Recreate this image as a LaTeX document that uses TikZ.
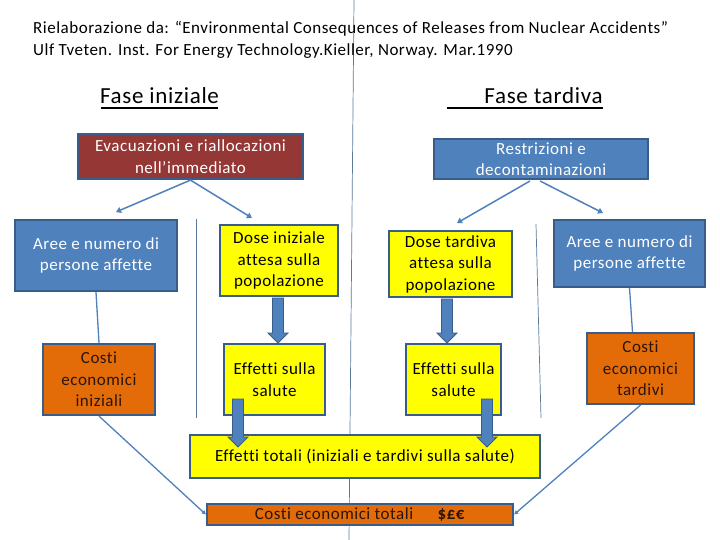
\documentclass[tikz,border=0pt]{standalone}
\usepackage{fontspec}
\setmainfont{Carlito}[LetterSpace=3,Ligatures=NoCommon]
\usetikzlibrary{arrows.meta,calc}
\definecolor{bdr}{HTML}{385D8A}
\definecolor{blu}{HTML}{4F81BD}
\definecolor{redbox}{HTML}{953735}
\definecolor{yel}{HTML}{FFFF00}
\definecolor{org}{HTML}{E36C09}
\definecolor{ln}{HTML}{5A7A9A}
\definecolor{orgtxt}{HTML}{2A150A}
\newcommand\blkarrow[2]{%
  \filldraw[fill=blu,draw=bdr,line width=0.8pt] let \p1=(#1), \p2=(#2) in
    (\x1-5.5pt,\y1) -- (\x1+5.5pt,\y1) -- (\x1+5.5pt,\y2+10pt) -- (\x1+10pt,\y2+10pt)
    -- (\x1,\y2) -- (\x1-10pt,\y2+10pt) -- (\x1-5.5pt,\y2+10pt) -- cycle;}
\begin{document}
\begin{tikzpicture}[x=1pt,y=-1pt,
  box/.style={draw=bdr,line width=2.2pt,inner sep=0pt,align=center,
    font=\fontsize{17}{21.5}\selectfont},
  bluebox/.style={box,fill=blu,text=white},
  redb/.style={box,fill=redbox,text=white},
  yelbox/.style={box,fill=yel,text=black},
  orgbox/.style={box,fill=org,text=orgtxt},
  conn/.style={blu,line width=1.5pt,-{Triangle[length=5pt,width=6pt]}},
  plain/.style={blu,line width=1.3pt},
  thin/.style={ln,line width=0.7pt}]
\useasboundingbox (0,0) rectangle (720,540);
\fill[white] (0,0) rectangle (720,540);
% thin separator lines
\coordinate (c1) at (354,0); \coordinate (c2) at (349,540);
\draw[thin] (c1) -- (c2);
\coordinate (l1) at (196,219); \coordinate (l2) at (196,418);
\draw[thin] (l1) -- (l2);
\coordinate (r1) at (536,224); \coordinate (r2) at (541,418);
\draw[thin] (r1) -- (r2);
% title
\node[anchor=west,inner sep=0pt,align=left,font=\fontsize{17}{22}\selectfont] (title) at (33,40)
  {Rielaborazione da: “Environmental Consequences of Releases from Nuclear Accidents”\\
   Ulf Tveten. Inst. For Energy Technology.Kieller, Norway. Mar.1990};
\node[inner sep=0pt,font=\fontsize{23}{26}\selectfont,anchor=base] (fi) at (159.5,104) {Fase iniziale};
\node[inner sep=0pt,font=\fontsize{23}{26}\selectfont,anchor=base] (ft) at (543.5,104) {Fase tardiva};
\coordinate (u1) at (101,108); \coordinate (u2) at (218,108);
\coordinate (u3) at (447,108); \coordinate (u4) at (603,108);
\draw[line width=1.5pt] (u1) -- (u2);
\draw[line width=1.5pt] (u3) -- (u4);
% boxes
\node[redb,minimum width=225,minimum height=45] (evac) at (190.5,156.5)
  {Evacuazioni e riallocazioni\\nell’immediato};
\node[bluebox,minimum width=214,minimum height=40] (restr) at (541,159)
  {Restrizioni e\\decontaminazioni};
\node[bluebox,minimum width=162,minimum height=71] (areeL) at (96,255.5)
  {Aree e numero di\\persone affette};
\node[yelbox,minimum width=118,minimum height=71] (dosei) at (279,260.5)
  {Dose iniziale\\attesa sulla\\popolazione};
\node[yelbox,minimum width=123,minimum height=66] (doset) at (450.5,264)
  {Dose tardiva\\attesa sulla\\popolazione};
\node[bluebox,minimum width=151,minimum height=67] (areeR) at (629.5,253.5)
  {Aree e numero di\\persone affette};
\node[orgbox,minimum width=112,minimum height=71] (costii) at (99,379.5)
  {Costi\\economici\\iniziali};
\node[yelbox,minimum width=101,minimum height=71] (effi) at (274.5,379.5)
  {Effetti sulla\\salute};
\node[yelbox,minimum width=95,minimum height=71] (efft) at (453.5,379.5)
  {Effetti sulla\\salute};
\node[orgbox,minimum width=107,minimum height=71] (costit) at (640.5,368.5)
  {Costi\\economici\\tardivi};
\node[yelbox,minimum width=350,minimum height=43] (efftot) at (365,456.5)
  {Effetti totali (iniziali e tardivi sulla salute)};
\node[orgbox,minimum width=306,minimum height=21] (costtot) at (360,514.5)
  {Costi economici totali\hspace{24pt}\textbf{\$£€}};
% thin connectors
\coordinate (e1) at (116,212); \coordinate (e2) at (252,218);
\draw[conn] (evac.south) -- (e1);
\draw[conn] (evac.south) -- (e2);
\coordinate (s1) at (530,181); \coordinate (s2) at (540,181);
\coordinate (t1) at (457,223); \coordinate (t2) at (603,213);
\draw[conn] (s1) -- (t1);
\draw[conn] (s2) -- (t2);
\draw[plain] (areeL.south) -- (costii.north);
\draw[plain] (areeR.south) -- ($(costit.north)+(-8,0)$);
\draw[plain,-{Triangle[length=4pt,width=4pt]}] (costii.south) -- (costtot.west);
\draw[plain,-{Triangle[length=4pt,width=4pt]}] (costit.south) -- (costtot.east);
% block arrows
\coordinate (b1a) at (278,298); \coordinate (b1b) at (278,343);
\blkarrow{b1a}{b1b}
\coordinate (b2a) at (447,299); \coordinate (b2b) at (447,343);
\blkarrow{b2a}{b2b}
\coordinate (b3a) at (238,399); \coordinate (b3b) at (238,447);
\blkarrow{b3a}{b3b}
\coordinate (b4a) at (487,399); \coordinate (b4b) at (487,447);
\blkarrow{b4a}{b4b}
\end{tikzpicture}
\end{document}
